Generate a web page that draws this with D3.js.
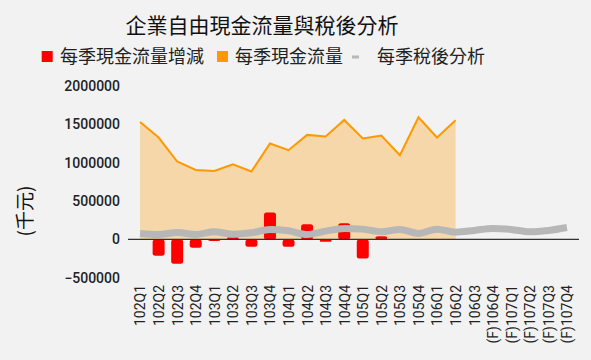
<!DOCTYPE html>
<html><head><meta charset="utf-8">
<script src="https://cdn.jsdelivr.net/npm/d3@7"></script>
<style>
html,body{margin:0;padding:0;background:#f2f2f2;}
svg{display:block;}
</style></head>
<body><svg id="c" width="591" height="360"></svg>
<script>
const categories = ['102Q1','102Q2','102Q3','102Q4','103Q1','103Q2','103Q3','103Q4','104Q1','104Q2','104Q3','104Q4','105Q1','105Q2','105Q3','105Q4','106Q1','106Q2','106Q3','(F)106Q4','(F)107Q1','(F)107Q2','(F)107Q3','(F)107Q4'];
const cashFlowChange = [null,-213000,-317000,-109000,-20000,30000,-96000,351000,-96000,199000,-31000,212000,-247000,43000,null,null,null,null,null,null,null,null,null,null];
const cashFlow = [1527000,1325000,1013000,904000,891000,978000,883000,1247000,1160000,1359000,1338000,1553000,1312000,1351000,1095000,1588000,1325000,1549000,null,null,null,null,null,null];
const afterTax = [78000,65000,91000,65000,99000,69000,86000,130000,112000,65000,108000,143000,134000,99000,130000,78000,134000,95000,117000,143000,130000,99000,117000,156000];
const yTicks = [-500000,0,500000,1000000,1500000,2000000];
const seriesNames = ['每季現金流量增減','每季現金流量','每季稅後分析'];
const seriesColors = ['#ff0000','#ff9900','#b7b7b7'];
const title = '企業自由現金流量與稅後分析';
const yLabel = '(千元)';

const svg = d3.select('#c');
const L = 128, R = 579, T = 85.6, B = 277.9;
const x = d3.scalePoint().domain(categories).range([L, R]).padding(0.65);
const y = d3.scaleLinear().domain([-500000, 2000000]).range([B, T]);
const cjk = '"Noto Sans CJK TC","Noto Sans CJK SC",sans-serif';

// title
svg.append('text').attr('x', 262).attr('y', 33).attr('text-anchor','middle')
  .attr('font-family', cjk).attr('font-size', 21).attr('fill','#111').text(title);

// legend
const leg = [{x:41.7, tx:60}, {x:217, tx:235}, {x:352, tx:377}];
leg.forEach((l,i)=>{
  if(i<2){
    svg.append('rect').attr('x',l.x).attr('y',51).attr('width',11).attr('height',11).attr('fill',seriesColors[i]);
  } else {
    svg.append('rect').attr('x',l.x).attr('y',55.5).attr('width',7).attr('height',3).attr('fill',seriesColors[i]);
  }
  svg.append('text').attr('x',l.tx).attr('y',57).attr('dy','0.35em')
    .attr('font-family',cjk).attr('font-size',18).attr('fill','#222').text(seriesNames[i]);
});

// y axis ticks
const yAxis = d3.axisLeft(y).tickValues(yTicks).tickSize(0).tickPadding(0).tickFormat(d3.format('d'));
const ya = svg.append('g').attr('transform', `translate(${120},0)`).call(yAxis);
ya.select('.domain').remove();
ya.selectAll('text').attr('font-family','Roboto, sans-serif').attr('font-size',14).attr('fill','#222').attr('font-weight',500);

// y label
svg.append('text').attr('transform','translate(25,211) rotate(-90)').attr('text-anchor','middle')
  .attr('dy','0.35em').attr('font-family',cjk).attr('font-size',19).attr('fill','#111').text(yLabel);

// x axis labels
const xAxis = d3.axisBottom(x).tickSize(0).tickPadding(0);
const xa = svg.append('g').attr('transform','translate(0,285)').call(xAxis);
xa.select('.domain').remove();
xa.selectAll('text').attr('transform','rotate(-90)').attr('text-anchor','end')
  .attr('x',0).attr('y',0).attr('dy','0.35em')
  .attr('font-family','Roboto, sans-serif').attr('font-size',14).attr('fill','#222');

// area + line for cash flow
const cf = categories.map((c,i)=>({c, v: cashFlow[i]}));
const area = d3.area().defined(d=>d.v!=null).x(d=>x(d.c)).y0(y(0)).y1(d=>y(d.v));
svg.append('path').datum(cf).attr('d', area).attr('fill', seriesColors[1]).attr('fill-opacity',0.3);
const line = d3.line().defined(d=>d.v!=null).x(d=>x(d.c)).y(d=>y(d.v));
svg.append('path').datum(cf).attr('d', line).attr('fill','none').attr('stroke',seriesColors[1]).attr('stroke-width',2);

// bars
const bw = 12;
const bars = categories.map((c,i)=>({c, v: cashFlowChange[i]})).filter(d=>d.v!=null);
svg.append('g').selectAll('rect').data(bars).join('rect')
  .attr('x', d=>x(d.c)-bw/2).attr('width', bw)
  .attr('y', d=>Math.min(y(d.v), y(0))).attr('height', d=>Math.abs(y(d.v)-y(0)))
  .attr('rx', 2.5).attr('fill', seriesColors[0]);

// after tax line
const at = categories.map((c,i)=>({c, v: afterTax[i]}));
const line2 = d3.line().x(d=>x(d.c)).y(d=>y(d.v)).curve(d3.curveMonotoneX);
svg.append('path').datum(at).attr('d', line2).attr('fill','none').attr('stroke',seriesColors[2]).attr('stroke-width',7);

// zero line
svg.append('line').attr('x1',L).attr('x2',R).attr('y1',y(0)).attr('y2',y(0)).attr('stroke','#333').attr('stroke-width',1.3);
</script></body></html>
